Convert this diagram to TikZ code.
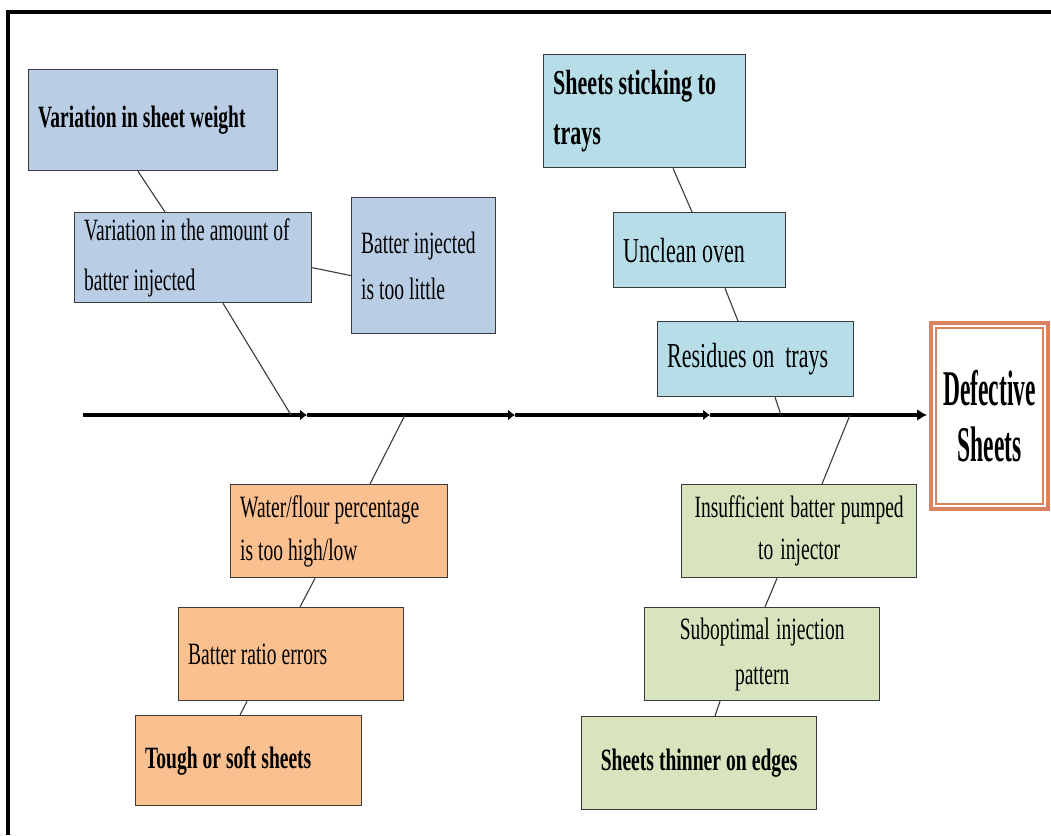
\documentclass[tikz,border=0pt]{standalone}
\usepackage{fontspec}
\setmainfont{Liberation Serif}
\newfontfamily\nf[FakeStretch=0.63]{Liberation Serif}
\newfontfamily\df[FakeStretch=0.47]{Liberation Serif}
\newcommand\ftsz[2]{\nf\fontsize{#1}{#2}\selectfont\hyphenpenalty=10000\relax}
\usetikzlibrary{arrows.meta,calc}
\definecolor{cblue}{HTML}{B9CDE5}
\definecolor{cteal}{HTML}{B7DEE8}
\definecolor{corange}{HTML}{FAC090}
\definecolor{cgreen}{HTML}{D7E4BD}
\definecolor{cdef}{HTML}{DB8260}
\definecolor{cedge}{HTML}{3A3A3A}
\begin{document}
\begin{tikzpicture}[x=1pt,y=-1pt,
  spc/.style={execute at begin node={\spaceskip=#1pt plus 1pt minus 0.5pt\relax\xspaceskip=#1pt\relax}},
  box/.style={draw=cedge, line width=1.3pt, anchor=north west, inner xsep=9.5pt, inner ysep=0pt,
    font={\ftsz{31}{44}}, spc=5},
  bl/.style={box, fill=cblue, align=left},
  tl/.style={box, fill=cteal, align=left, font={\ftsz{35}{50}}, spc=5.5},
  ol/.style={box, fill=corange, align=left},
  gl/.style={box, fill=cgreen, align=center},
  conn/.style={draw=cedge, line width=1.1pt},
  spinemid/.style={line width=3.4pt, -{Latex[length=7pt,width=11pt]}},
  spineend/.style={line width=3.4pt, -{Latex[length=10pt,width=12pt]}},
]
\useasboundingbox (0,0) rectangle (1051,835);
% frame (right and bottom sides fall outside the picture)
\draw[line width=4pt] (8,835) -- (8,12) -- (1051,12);

% spine
\coordinate (s0) at (83,415);
\coordinate (t1) at (307,415);
\coordinate (t2) at (515,415);
\coordinate (t3) at (710,415);
\coordinate (s4) at (927,415);
\coordinate (a1) at (291,415);
\coordinate (a2) at (405,415);
\coordinate (a3) at (781,415);
\coordinate (a4) at (850,415);
\draw[spinemid] (s0) -- (t1);
\draw[spinemid] (t1) -- (t2);
\draw[spinemid] (t2) -- (t3);
\draw[spineend] (t3) -- (s4);

% upper left (blue)
\node[bl, minimum width=249pt, minimum height=101pt, text width=230pt] (vw) at (28,69)
  {\textbf{Variation in sheet weight}};
\node[bl, minimum width=237pt, minimum height=90pt, text width=218pt,
  font={\ftsz{31}{50}}] (va) at (74,212)
  {Variation in the amount of\\batter injected};
\node[bl, minimum width=144pt, minimum height=136pt, text width=125pt,
  font={\ftsz{31}{46}}] (bi) at (351,197)
  {Batter injected\\is too little};

% upper right (teal)
\node[tl, minimum width=202pt, minimum height=113pt, text width=183pt] (st) at (543,54)
  {\textbf{Sheets sticking to}\\\textbf{trays}};
\node[tl, minimum width=172pt, minimum height=75pt, text width=153pt] (uo) at (613,212)
  {Unclean oven};
\node[tl, minimum width=196pt, minimum height=75pt, text width=177pt] (ro) at (657,321)
  {Residues on\ \ trays};

% lower left (orange)
\node[ol, minimum width=217pt, minimum height=93pt, text width=198pt,
  font={\ftsz{31}{43}}] (wf) at (230,484)
  {Water/flour percentage\\is too high/low};
\node[ol, minimum width=225pt, minimum height=93pt, text width=206pt] (br) at (178,607)
  {Batter ratio errors};
\node[ol, minimum width=226pt, minimum height=90pt, text width=207pt] (ts) at (135,715)
  {\textbf{Tough or soft sheets}};

% lower right (green)
\node[gl, minimum width=235pt, minimum height=93pt, text width=216pt,
  font={\ftsz{31}{42}}, spc=6] (ib) at (681,484)
  {Insufficient batter pumped\\to injector};
\node[gl, minimum width=235pt, minimum height=93pt, text width=216pt,
  font={\ftsz{31}{45}}, spc=6] (so) at (644,607)
  {Suboptimal injection\\pattern};
\node[gl, minimum width=235pt, minimum height=93pt, text width=216pt] (te) at (581,716)
  {\textbf{Sheets thinner on edges}};

% effect
\node[draw=cdef, line width=4pt, fill=white, anchor=north west, minimum width=117pt,
  minimum height=186pt, inner sep=0pt, outer sep=0pt, align=center,
  font=\df\fontsize{50}{56}\selectfont] (def) at (931,323)
  {\textbf{Defective}\\\textbf{Sheets}};
\draw[cdef, line width=1.3pt] ($(def.north west)+(5,5)$) rectangle ($(def.south east)+(-5,-5)$);

% connectors
\draw[conn] ($(vw.south west)+(110,0)$) -- ($(va.north west)+(91,0)$);
\draw[conn] ($(va.east)+(0,10)$) -- ($(bi.west)+(0,10)$);
\draw[conn] ($(va.south west)+(149,0)$) -- (a1);
\draw[conn] ($(st.south west)+(130,0)$) -- ($(uo.north west)+(79,0)$);
\draw[conn] ($(uo.south west)+(112,0)$) -- ($(ro.north west)+(81,0)$);
\draw[conn] ($(ro.south west)+(118,0)$) -- (a3);
\draw[conn] (a2) -- ($(wf.north west)+(140,0)$);
\draw[conn] ($(wf.south west)+(85,0)$) -- ($(br.north west)+(122,0)$);
\draw[conn] ($(br.south west)+(69,0)$) -- ($(ts.north west)+(105,0)$);
\draw[conn] (a4) -- ($(ib.north west)+(141,0)$);
\draw[conn] ($(ib.south west)+(96,0)$) -- ($(so.north west)+(121,0)$);
\draw[conn] ($(so.south west)+(76,0)$) -- ($(te.north west)+(134,0)$);
\end{tikzpicture}
\end{document}
